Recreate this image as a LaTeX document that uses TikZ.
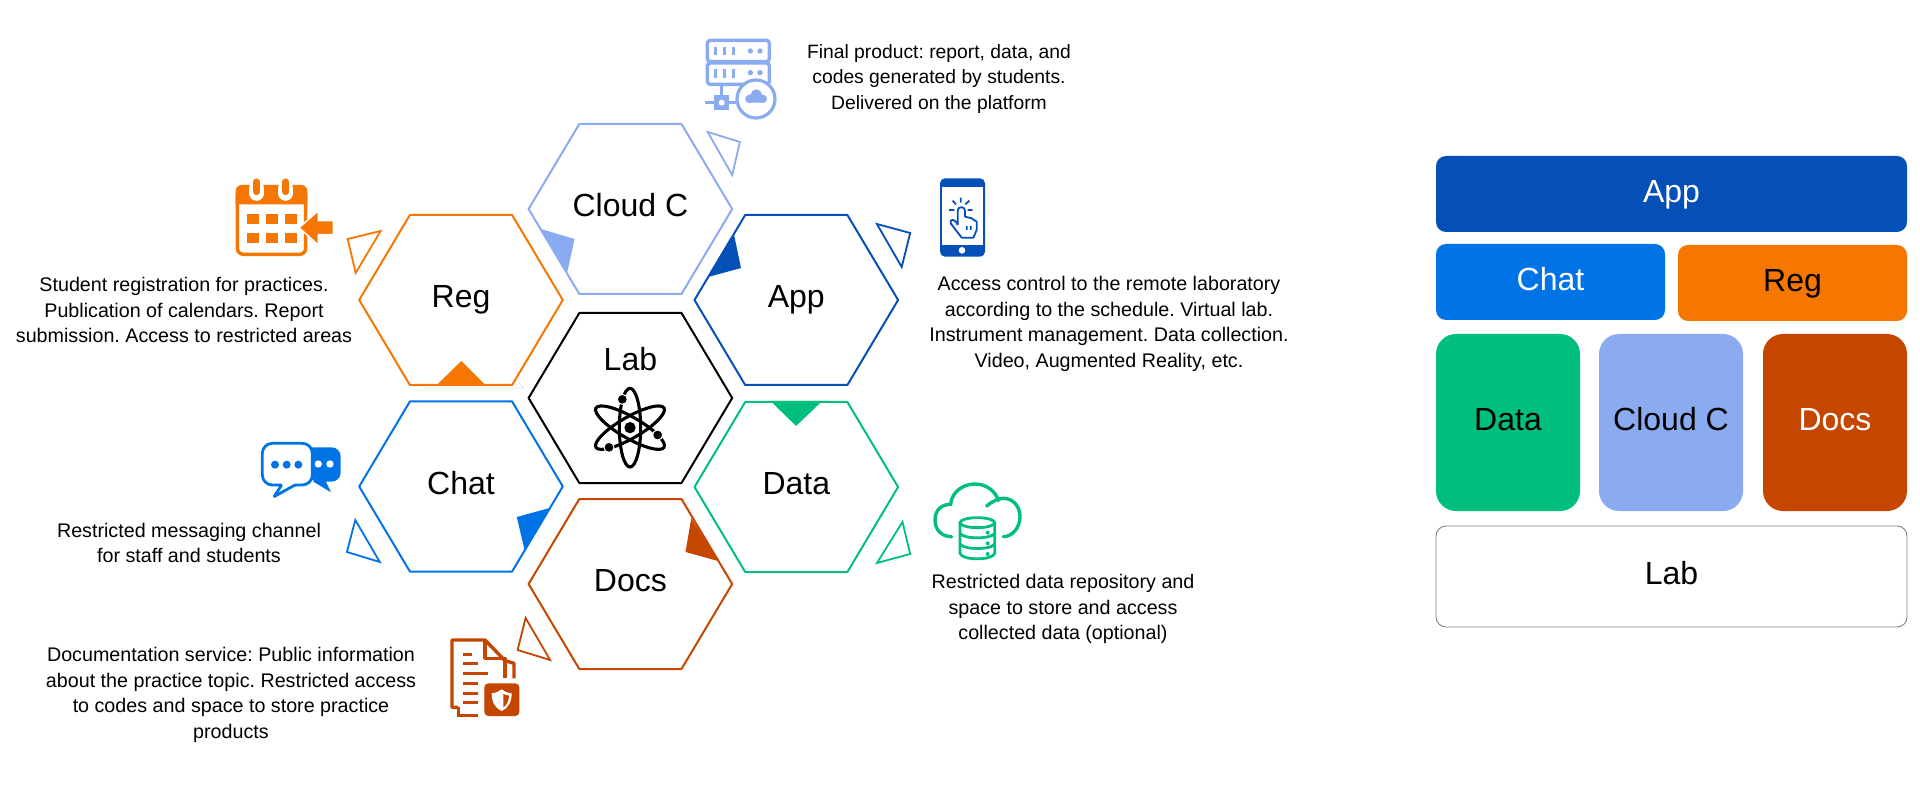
\documentclass[tikz,border=0pt]{standalone}
\usepackage{fontspec}
\setmainfont{Liberation Sans}
\usepackage{xcolor}
\usetikzlibrary{shapes,positioning,calc}
\definecolor{cloudc}{HTML}{8BABF1}
\definecolor{appc}{HTML}{054FB9}
\definecolor{chatc}{HTML}{0073E6}
\definecolor{regc}{HTML}{F57600}
\definecolor{datac}{HTML}{00BF7D}
\definecolor{docsc}{HTML}{C44601}
\definecolor{labc}{HTML}{000000}
\frenchspacing

\begin{document}
\begin{tikzpicture}[x=1pt, y=-1pt,
  hexa/.style={draw=#1, line width=2pt, line join=round},
  hexlabel/.style={anchor=base, font=\fontsize{32}{36}\selectfont, inner sep=0pt},
  captxt/.style={align=center, inner sep=0pt, font=\fontsize{19.7}{25.6}\selectfont},
  stack/.style={rectangle, fill=#1, inner sep=0pt, font=\fontsize{32}{36}\selectfont, text height=24pt, text depth=7.5pt},
  tipfill/.style={fill=#1},
  tipline/.style={draw=#1, line width=1.8pt, line join=miter},
  icon/.style={line width=3.4pt, draw=#1}
]
  \useasboundingbox (0,0) rectangle (1920,791);

  % honeycomb
  \foreach \id/\txt/\cx/\cy/\bl/\col in {cl/Cloud C/630.4/209/217/cloudc, re/Reg/461/300/308/regc, ap/App/796.3/300/308/appc, la/Lab/630.4/398/371/labc, ch/Chat/461/486.5/494/chatc, da/Data/796.3/487/494/datac, dc/Docs/630.4/584/591/docsc}{
    \draw[hexa=\col] (\cx,\cy) ++(-101.8,0) -- ++(50.7,-85) -- ++(102.2,0) -- ++(50.7,85) -- ++(-50.7,85) -- ++(-102.2,0) -- cycle;
    \node[hexlabel] (hex\id) at (\cx,\bl) {\txt};
  }

  % faint trace under Reg
  \draw[black!12, line width=0.8pt] (425,388) -- (523.7,388) -- (518,382);

  % small triangles
  \fill[tipfill=cloudc] (540.9,229) -- (574.6,239) -- (567.3,272) -- cycle;
  \draw[tipline=cloudc] (707.7,132) -- (739.9,142) -- (732.2,175) -- cycle;
  \fill[tipfill=appc] (734.1,235) -- (741,268) -- (708.1,277) -- cycle;
  \draw[tipline=appc] (876.9,224) -- (910.2,233) -- (901.7,267) -- cycle;
  \fill[tipfill=regc] (436.8,385) -- (461.3,361) -- (485.4,385) -- cycle;
  \draw[tipline=regc] (347.7,239) -- (380.6,231) -- (355.7,273) -- cycle;
  \fill[tipfill=datac] (770.5,401) -- (822.2,401) -- (796.1,426) -- cycle;
  \draw[tipline=datac] (902.5,522) -- (910.2,554) -- (876.9,563) -- cycle;
  \fill[tipfill=chatc] (549.7,508) -- (516.8,517) -- (524.8,551) -- cycle;
  \draw[tipline=chatc] (355.3,520) -- (379.8,562) -- (346.9,552) -- cycle;
  \fill[tipfill=docsc] (691.3,518) -- (718.1,561) -- (685.5,552) -- cycle;
  \draw[tipline=docsc] (525.6,618) -- (550.1,660) -- (517.6,650) -- cycle;

  % captions
  \node[captxt, font=\fontsize{19.3}{25.6}\selectfont] (capcl) at (939,79) {Final product: report, data, and\\codes generated by students.\\Delivered on the platform};
  \node[captxt] (capre) at (184,310) {Student registration for practices.\\Publication of calendars. Report\\submission. Access to restricted areas};
  \node[captxt] (capap) at (1109,324) {Access control to the remote laboratory\\according to the schedule. Virtual lab.\\Instrument management. Data collection.\\Video, Augmented Reality, etc.};
  \node[captxt] (capch) at (189,543) {Restricted messaging channel\\for staff and students};
  \node[captxt] (capda) at (1063,609) {Restricted data repository and\\space to store and access\\collected data (optional)};
  \node[captxt] (capdc) at (231,695) {Documentation service: Public information\\about the practice topic. Restricted access\\to codes and space to store practice\\products};

  % stack on the right
  \node[stack=appc, text=white, rounded corners=10pt, minimum width=471pt, minimum height=76pt] (stapp) at (1671.5,194) {App};
  \node[stack=chatc, text=white, rounded corners=10pt, minimum width=229pt, minimum height=76pt] (stchat) at (1550.5,282) {Chat};
  \node[stack=regc, rounded corners=10pt, minimum width=229pt, minimum height=76pt] (streg) at (1792.5,283) {Reg};
  \node[stack=datac, rounded corners=20pt, minimum width=144pt, minimum height=177pt] (stdata) at (1508,422.5) {Data};
  \node[stack=cloudc, rounded corners=20pt, minimum width=144pt, minimum height=177pt] (stcloud) at (1671,422.5) {Cloud C};
  \node[stack=docsc, text=white, rounded corners=20pt, minimum width=144pt, minimum height=177pt] (stdocs) at (1835,422.5) {Docs};
  \node[stack=white, draw=black!50, line width=0.9pt, rounded corners=10pt, minimum width=471pt, minimum height=101pt] (stlab) at (1671.5,576.5) {Lab};

  % atom
  \begin{scope}[shift={(570,340)}, scale=1/3]
    \foreach \a in {0,60,-60}
      \draw[line width=3.1pt, rotate around={\a:(180,263)}] (180,263) ellipse (32 and 118);
    \fill (180,263) circle (17);
    \foreach \ex/\ey in {157/178, 263/285, 117/322}
      \filldraw[draw=white, line width=1pt] (\ex,\ey) circle (15);
  \end{scope}

  % calendar
  \begin{scope}[shift={(220,160)}, scale=1/3]
    \draw[icon=regc, rounded corners=6pt] (52,90) rectangle (257,283);
    \fill[regc] (47,133) [rounded corners=6pt] -- (47,75) -- (262,75) [sharp corners] -- (262,133) -- cycle;
    \foreach \x in {110,197}{
      \draw[white, line width=15pt, line cap=round] (\x,85) -- (\x,100);
      \draw[regc, line width=7pt, line cap=round] (\x,66) -- (\x,95);
    }
    \foreach \x in {80,137,194}
      \foreach \y in {162,218}
        \fill[regc] (\x,\y) rectangle ++(36,31);
    \filldraw[fill=regc, draw=white, line width=1.5pt] (237,203) -- (295,152) -- (295,182) -- (340,182) -- (340,224) -- (295,224) -- (295,255) -- cycle;
  \end{scope}

  % server with cloud
  \begin{scope}[shift={(690,25)}, scale=1/3]
    \draw[icon=cloudc, rounded corners=3pt] (52,46) rectangle (238,110);
    \draw[icon=cloudc, rounded corners=3pt] (52,114) rectangle (238,178);
    \foreach \x in {77,103,131}{
      \draw[cloudc, line width=3pt] (\x,65) -- (\x,90);
      \draw[cloudc, line width=3pt] (\x,133) -- (\x,158);
    }
    \foreach \x in {181,210}{
      \fill[cloudc] (\x,78) circle (8);
      \fill[cloudc] (\x,143) circle (8);
    }
    \draw[cloudc, line width=3pt] (95,178) -- (95,233) (45,233) -- (150,233);
    \fill[cloudc] (73,211) rectangle (117,255);
    \fill[white] (95,233) circle (9);
    \filldraw[draw=cloudc, fill=white, line width=3.2pt] (198,222) circle (57);
    \fill[cloudc, rounded corners=3pt] (166,233) rectangle (230,212);
    \fill[cloudc] (180,221) circle (13) (199,210) circle (17) (218,221) circle (12);
  \end{scope}

  % phone
  \begin{scope}[shift={(920,170)}, scale=1/3]
    \fill[appc, rounded corners=5pt] (60,25) rectangle (195,260);
    \fill[white] (66,52) rectangle (189,225);
    \fill[white] (126,241) circle (10);
    \draw[appc, line width=1.8pt, line join=round] (113,165) -- (113,122) .. controls (113,108) and (135,108) .. (135,122) -- (135,140) -- (155,145) -- (170,155) -- (170,180) -- (160,203) -- (125,203) -- (92,160) .. controls (88,145) and (105,145) .. (113,165);
    \draw[appc, line width=1.8pt] (122,83) -- (122,98) (98,92) -- (108,103) (148,92) -- (136,103) (87,120) -- (103,120) (143,120) -- (158,120) (140,168) -- (140,180) (152,168) -- (152,180);
  \end{scope}

  % data cloud
  \begin{scope}[shift={(920,470)}, scale=1/3]
    \draw[icon=datac, line cap=round] (95,200) .. controls (65,200) and (45,180) .. (45,150) .. controls (45,120) and (65,103) .. (92,103) .. controls (95,65) and (130,42) .. (165,42) .. controls (200,42) and (228,65) .. (235,92);
    \draw[icon=datac, line cap=round] (200,108) .. controls (215,95) and (235,85) .. (250,85) .. controls (280,85) and (300,110) .. (300,140) .. controls (300,175) and (275,200) .. (250,200);
    \draw[datac, line width=2.8pt] (172,158) ellipse (52 and 15);
    \draw[datac, line width=2.8pt] (120,158) -- (120,250) .. controls (125,272) and (219,272) .. (224,250) -- (224,158);
    \draw[datac, line width=2.8pt] (120,190) .. controls (130,208) and (214,208) .. (224,190) (120,222) .. controls (130,240) and (214,240) .. (224,222);
    \foreach \y in {188,220,252}
      \fill[datac] (203,\y) circle (6);
  \end{scope}

  % chat bubbles
  \begin{scope}[shift={(250,430)}, scale=1/3]
    \fill[chatc] (185,52) [rounded corners=9pt] -- (272,52) -- (272,155) [sharp corners] -- (228,155) -- (243,187) -- (190,155) -- cycle;
    \fill[white] (205,102) circle (11) (240,102) circle (11);
    \draw[draw=chatc, fill=white, line width=2.8pt] (100,40) [rounded corners=10pt] -- (187,40) -- (187,165) [rounded corners=1pt] -- (135,165) -- (72,200) -- (95,165) [rounded corners=10pt] -- (37,165) -- (37,40) -- cycle;
    \foreach \x in {75,110,145}
      \fill[chatc] (\x,104) circle (12);
  \end{scope}

  % documents
  \begin{scope}[shift={(440,630)}, scale=1/3]
    \draw[icon=docsc, line join=round] (55,232) -- (36,232) -- (36,30) -- (135,30) -- (195,92) -- (222,100) -- (222,145);
    \draw[icon=docsc, line join=round] (135,30) -- (135,85) -- (195,85) -- (195,145);
    \draw[icon=docsc] (55,232) -- (55,256) -- (115,256);
    \foreach \y/\xe in {72/95, 101/115, 130/143, 160/115, 190/115, 218/115}
      \draw[docsc, line width=3pt] (68,\y) -- (\xe,\y);
    \fill[docsc, rounded corners=4pt] (133,160) rectangle (238,258);
    \fill[white] (155,190) .. controls (170,188) and (178,184) .. (185,178) .. controls (192,184) and (200,188) .. (215,190) .. controls (215,215) and (205,235) .. (185,243) .. controls (165,235) and (155,215) .. (155,190);
    \fill[docsc] (190,192) .. controls (195,194) and (200,196) .. (207,197) .. controls (207,212) and (200,226) .. (190,232) -- cycle;
  \end{scope}
\end{tikzpicture}
\end{document}
